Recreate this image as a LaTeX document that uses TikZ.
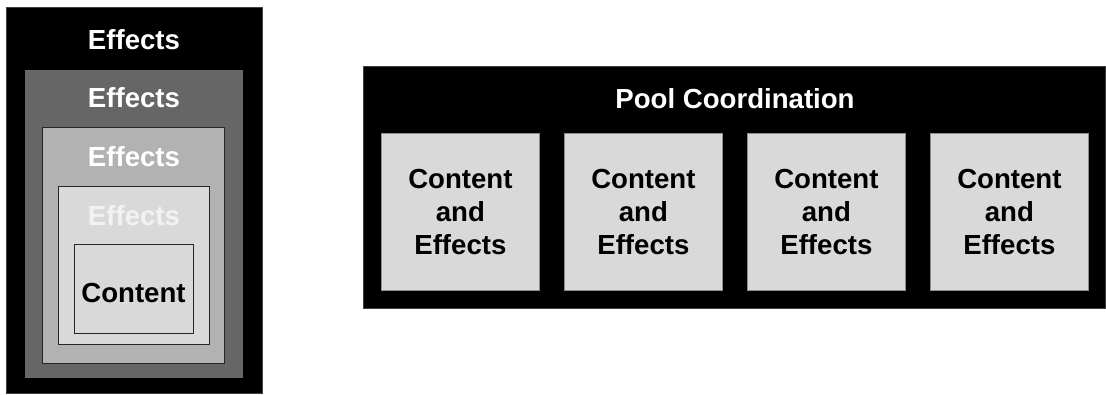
\documentclass[tikz,border=0pt]{standalone}
\usepackage{fontspec}
\setmainfont{Liberation Sans}
\begin{document}
\begin{tikzpicture}[x=1pt,y=-1pt,
  lbl/.style={font=\fontsize{27.6}{33}\selectfont\bfseries, inner sep=0pt},
  blk/.style={fill=black, draw=black!75, line width=0.8pt, anchor=north west, inner sep=0pt},
  lay/.style={draw=black!85, line width=1pt, anchor=north west, inner sep=0pt},
  poolbox/.style={fill=black!15, draw=black!45, line width=0.8pt, anchor=north west, inner sep=0pt,
    minimum width=158pt, minimum height=157pt},
  pooltxt/.style={lbl, align=center, text=black}]
\useasboundingbox (0,0) rectangle (1106,394);
% left nested diagram
\node[blk, minimum width=256pt, minimum height=386pt] (outer) at (6,7) {};
\node[anchor=north west, inner sep=0pt, fill=black!60, minimum width=218pt, minimum height=308pt] (l1) at (25,70) {};
\node[lay, fill=black!30, minimum width=182pt, minimum height=236pt] (l2) at (42,127) {};
\node[lay, fill=black!15, minimum width=151pt, minimum height=158pt] (l3) at (58,186) {};
\node[lay, fill=black!15, minimum width=119pt, minimum height=89pt] (content) at (74,244) {};
\node[lbl, text=white] (e0) at (134,40) {Effects};
\node[lbl, text=white] (e1) at (134,98) {Effects};
\node[lbl, text=white] (e2) at (134,157) {Effects};
\node[lbl, text=white!95!black] (e3) at (134,216) {Effects};
\node[lbl, text=black] (ct) at (133.5,293) {Content};
% pool coordination
\node[blk, minimum width=742pt, minimum height=242pt] (pool) at (363,66) {};
\node[lbl, text=white] (pooltitle) at (735,99) {Pool Coordination};
\node[poolbox] (p1) at (381,133) {};
\node[poolbox] (p2) at (564,133) {};
\node[poolbox] (p3) at (747,133) {};
\node[poolbox] (p4) at (930,133) {};
\node[pooltxt] (t1) at (p1.center) {Content\\and\\Effects};
\node[pooltxt] (t2) at (p2.center) {Content\\and\\Effects};
\node[pooltxt] (t3) at (p3.center) {Content\\and\\Effects};
\node[pooltxt] (t4) at (p4.center) {Content\\and\\Effects};
\end{tikzpicture}
\end{document}
